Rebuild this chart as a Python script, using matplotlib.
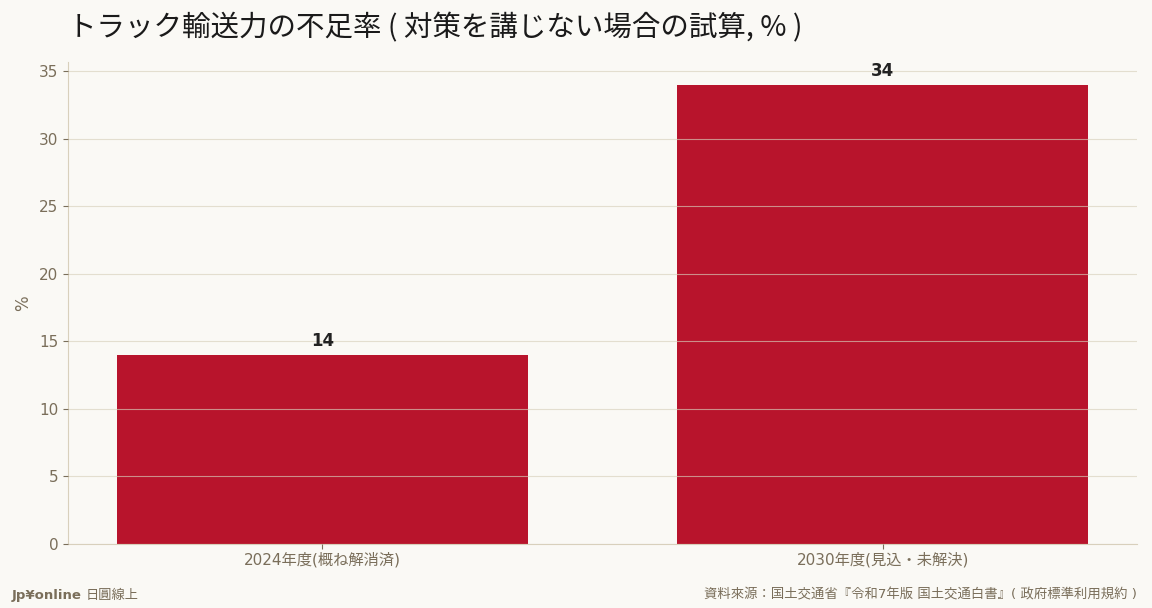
import matplotlib
matplotlib.use("Agg")
import matplotlib.pyplot as plt

plt.rcParams['font.family'] = ['DejaVu Sans', 'Noto Sans CJK JP']

categories = ["2024年度(概ね解消済)", "2030年度(見込・未解決)"]
values = [14, 34]
yticks = [0, 5, 10, 15, 20, 25, 30, 35]

bg = "#FAF9F5"
bar_color = "#B8142C"
text_col = "#7A6E5A"
grid_col = "#D8D0BC"
spine_col = "#D8D0BC"

fig = plt.figure(figsize=(11.52, 6.08), dpi=100, facecolor=bg)
ax = fig.add_axes([68/1152, 1 - 544/608, (1137-68)/1152, (544-62)/608])
ax.set_facecolor(bg)

x = range(len(categories))
ax.bar(x, values, width=0.735, color=bar_color, zorder=2)
ax.set_ylim(0, max(values) * 1.05)
ax.set_yticks(yticks)
ax.set_xticks(list(x))
ax.set_xticklabels(categories)
ax.grid(axis='y', color=grid_col, linewidth=0.8, alpha=0.65, zorder=3)
ax.set_axisbelow(False)

for i, v in enumerate(values):
    ax.text(i, v + 0.4, str(v), ha='center', va='bottom', fontsize=12,
            fontweight='bold', color='#222222')

for s in ['top', 'right']:
    ax.spines[s].set_visible(False)
for s in ['left', 'bottom']:
    ax.spines[s].set_color(spine_col)
ax.tick_params(colors=text_col, labelsize=11)
ax.tick_params(axis='x', pad=2)
ax.set_ylabel("%", color=text_col, fontsize=12)
ax.yaxis.set_label_coords(-36/1069, 0.5)

fig.text(68/1152, 1 - 28/608, "トラック輸送力の不足率 ( 対策を講じない場合の試算, % )",
         fontsize=20.5, color='#1A1A1A', va='center', ha='left',
         family=['Noto Sans CJK JP', 'DejaVu Sans'])

fig.text(12/1152, 1 - 595/608, "Jp¥online", fontsize=9.5, fontweight='bold',
         color=text_col, va='center', ha='left')
fig.text(86/1152, 1 - 595/608, "日圓線上", fontsize=9.5,
         color=text_col, va='center', ha='left')
fig.text(1137/1152, 1 - 595/608,
         "資料來源：国土交通省『令和7年版 国土交通白書』( 政府標準利用規約 )",
         fontsize=9.6, color=text_col, va='center', ha='right')

fig.savefig("out.png", dpi=100, facecolor=bg)
